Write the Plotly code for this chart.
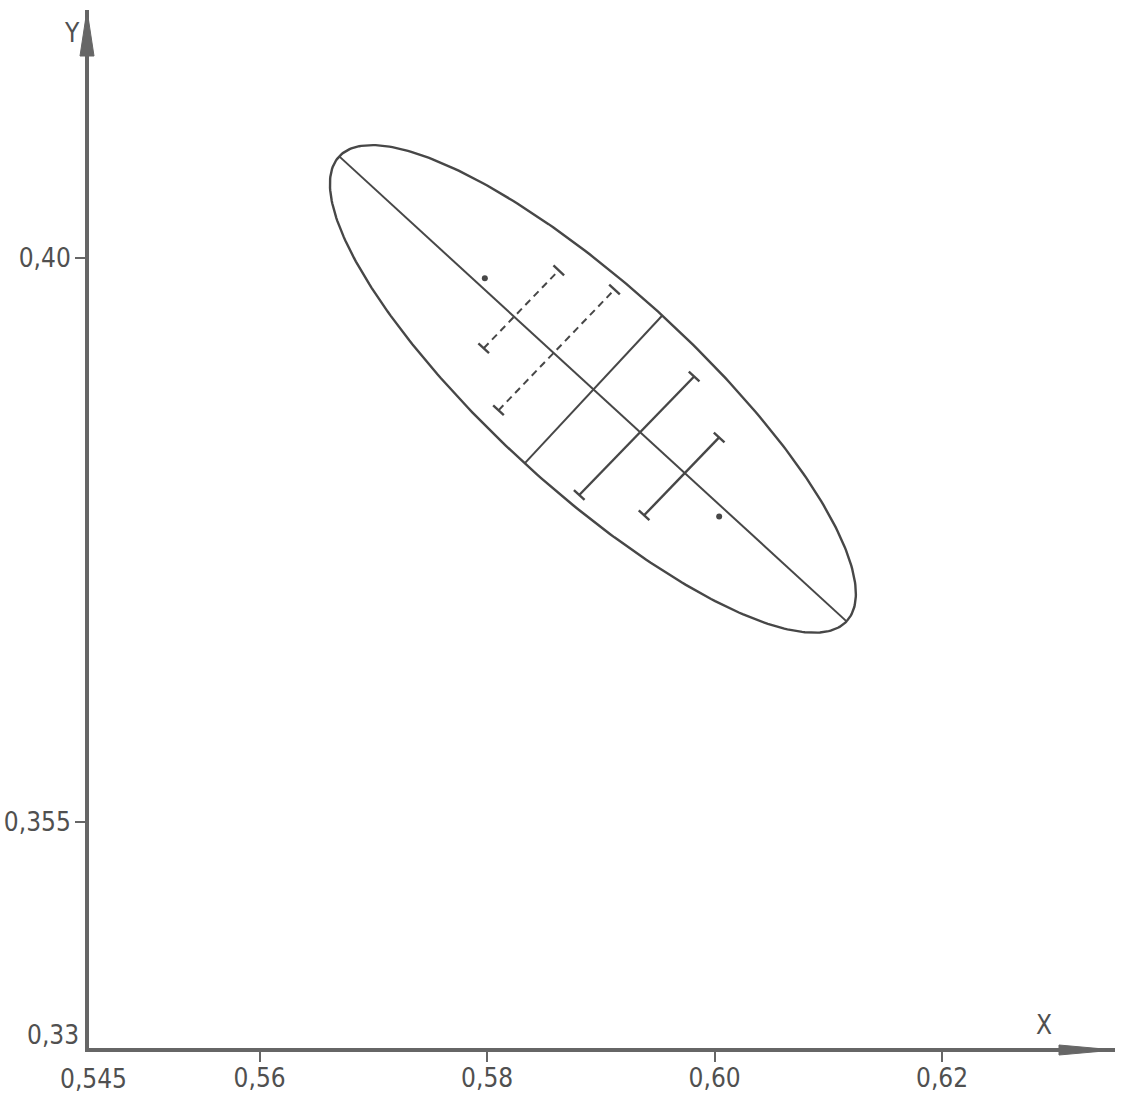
import numpy as np
import plotly.graph_objects as go

# ---- axis ticks -------------------------------------------------------
x_tick_vals = [0.56, 0.58, 0.60, 0.62]
x_tick_text = ["0,56", "0,58", "0,60", "0,62"]
y_tick_vals = [0.35, 0.40]
y_tick_text = ["0,355", "0,40"]
x_origin, y_origin = 0.545, 0.33
x_origin_text, y_origin_text = "0,545", "0,33"

# ---- ellipse (major axis end points, minor axis end points) -----------
major_a = (0.5670, 0.4090)
major_b = (0.6116, 0.3678)
minor_c = (0.5833, 0.3818)
minor_d = (0.5954, 0.3949)

# ---- intervals across the ellipse -------------------------------------
dashed_starts = [(0.5797, 0.3920), (0.5810, 0.3865)]
dashed_ends = [(0.5863, 0.3989), (0.5912, 0.3972)]
solid_starts = [(0.5881, 0.3790), (0.5938, 0.3772)]
solid_ends = [(0.5982, 0.3895), (0.6004, 0.3841)]

# ---- single points ------------------------------------------------------
point_x = [0.5798, 0.6004]
point_y = [0.3982, 0.3771]

INK = "#474747"
AXIS = "#666666"
TEXT = "#505050"
FONT = "DejaVu Sans Condensed, DejaVu Sans, sans-serif"
FONT_SIZE = 26

x_range = [0.545, 0.6352]
y_range = [0.33, 0.42197]

fig = go.Figure()

# ellipse outline from centre and conjugate semi-axes
c = np.array([(major_a[0] + major_b[0]) / 2, (major_a[1] + major_b[1]) / 2])
u = np.array(major_b) - c
v = np.array(minor_d) - c
t = np.linspace(0, 2 * np.pi, 361)
ex = c[0] + u[0] * np.cos(t) + v[0] * np.sin(t)
ey = c[1] + u[1] * np.cos(t) + v[1] * np.sin(t)
fig.add_trace(go.Scatter(x=ex, y=ey, mode="lines",
                         line=dict(color=INK, width=2.4), hoverinfo="skip"))

# principal axes
fig.add_trace(go.Scatter(x=[major_a[0], major_b[0], None, minor_c[0], minor_d[0]],
                         y=[major_a[1], major_b[1], None, minor_c[1], minor_d[1]],
                         mode="lines", line=dict(color=INK, width=2),
                         hoverinfo="skip"))

# cap direction: along the major axis
cap = (np.array(major_b) - np.array(major_a)) * 0.0105


def caps(starts, ends):
    xs, ys = [], []
    for p in list(starts) + list(ends):
        xs += [p[0] - cap[0], p[0] + cap[0], None]
        ys += [p[1] - cap[1], p[1] + cap[1], None]
    return xs, ys


def segments(starts, ends):
    xs, ys = [], []
    for s, e in zip(starts, ends):
        xs += [s[0], e[0], None]
        ys += [s[1], e[1], None]
    return xs, ys


dx, dy = segments(dashed_starts, dashed_ends)
fig.add_trace(go.Scatter(x=dx, y=dy, mode="lines",
                         line=dict(color=INK, width=2, dash="7px,5px"),
                         hoverinfo="skip"))
sx, sy = segments(solid_starts, solid_ends)
fig.add_trace(go.Scatter(x=sx, y=sy, mode="lines",
                         line=dict(color=INK, width=2.4), hoverinfo="skip"))
cx, cy = caps(dashed_starts + solid_starts, dashed_ends + solid_ends)
fig.add_trace(go.Scatter(x=cx, y=cy, mode="lines",
                         line=dict(color=INK, width=2.4), hoverinfo="skip"))

fig.add_trace(go.Scatter(x=point_x, y=point_y, mode="markers",
                         marker=dict(color=INK, size=6), hoverinfo="skip"))

axis_common = dict(showgrid=False, zeroline=False, showline=True,
                   automargin=False,
                   linecolor=AXIS, linewidth=4, ticks="outside", ticklen=10,
                   tickwidth=2, tickcolor=AXIS,
                   tickfont=dict(family=FONT, size=FONT_SIZE, color=TEXT))

fig.update_layout(
    width=1123, height=1100,
    margin=dict(l=89, r=8, t=10, b=52, autoexpand=False),
    paper_bgcolor="white", plot_bgcolor="white",
    showlegend=False,
    xaxis=dict(range=x_range, tickvals=x_tick_vals, ticktext=x_tick_text,
               ticklabelstandoff=-6, **axis_common),
    yaxis=dict(range=y_range, tickvals=y_tick_vals, ticktext=y_tick_text,
               ticklabelstandoff=-1, **axis_common),
)

# arrow heads at the ends of both axes (paper-anchored so they are not clipped;
# the axis lines sit half a line width outside the plotting area)
fig.add_shape(type="path", xref="paper", yref="paper", xsizemode="pixel",
              ysizemode="pixel", xanchor=1, yanchor=0,
              path="M -56,3 L 0,-2 L -56,-7 Z", fillcolor=AXIS,
              line=dict(color=AXIS, width=1))
fig.add_shape(type="path", xref="paper", yref="paper", xsizemode="pixel",
              ysizemode="pixel", xanchor=0, yanchor=1,
              path="M -9,-46 L -2,0 L 5,-46 Z", fillcolor=AXIS,
              line=dict(color=AXIS, width=1))

label_font = dict(family=FONT, size=FONT_SIZE, color=TEXT)
fig.add_annotation(x=x_origin, y=y_origin, text=x_origin_text, showarrow=False,
                   xanchor="center", yanchor="top", xshift=4, yshift=-14,
                   font=label_font)
fig.add_annotation(x=x_origin, y=y_origin, text=y_origin_text, showarrow=False,
                   xanchor="right", yanchor="bottom", xshift=-8, yshift=-4,
                   font=label_font)
fig.add_annotation(x=x_origin, y=0.4199, text="Y", showarrow=False,
                   xanchor="right", yanchor="middle", xshift=-7,
                   font=label_font)
fig.add_annotation(x=0.6290, y=y_origin, text="X", showarrow=False,
                   xanchor="center", yanchor="bottom", yshift=6,
                   font=label_font)

fig.write_html("out.html")
